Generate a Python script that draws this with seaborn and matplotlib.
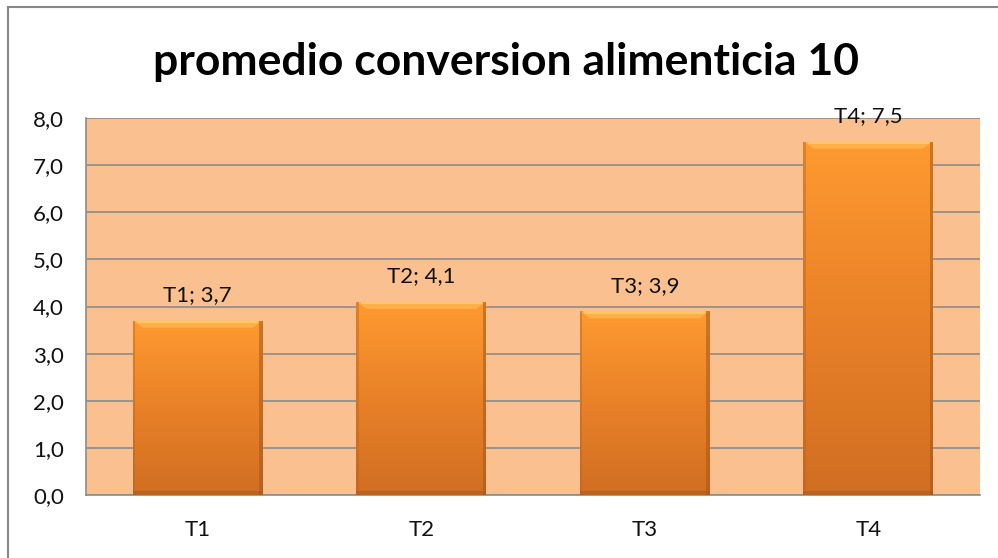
import numpy as np
import pandas as pd
import matplotlib
matplotlib.use("Agg")
import matplotlib.pyplot as plt
from matplotlib.colors import LinearSegmentedColormap
from matplotlib.patches import Rectangle, Polygon
import seaborn as sns

# Data
categories = ["T1", "T2", "T3", "T4"]
values = [3.7, 4.1, 3.9, 7.5]
y_ticks = [0, 1, 2, 3, 4, 5, 6, 7, 8]
title = "promedio conversion alimenticia 10"

sns.set_theme(style="white")
plt.rcParams["font.family"] = ["Lato", "DejaVu Sans"]

df = pd.DataFrame({"trat": categories, "valor": values})

fig = plt.figure(figsize=(9.98, 5.58), dpi=100)
ax = fig.add_axes([0.0862, 0.1129, 0.8958, 0.6756])

sns.barplot(data=df, x="trat", y="valor", ax=ax, color="#F79646",
            width=0.58, edgecolor="none", saturation=1, zorder=3)

ax.set_facecolor("#FAC090")
ax.set_ylim(0, 8)
ax.set_xlim(-0.5, len(categories) - 0.5)
ax.set_yticks(y_ticks)
ax.set_yticklabels([f"{t:.1f}".replace(".", ",") for t in y_ticks],
                   fontsize=16, color="#111111")
ax.tick_params(axis="x", labelsize=16, colors="#111111", pad=18, length=0)
ax.tick_params(axis="y", pad=16, length=0)
ax.set_xlabel("")
ax.set_ylabel("")
ax.yaxis.grid(True, color="#8C8C8C", linewidth=1.2, zorder=1)
ax.set_axisbelow(True)
for side in ["top", "right"]:
    ax.spines[side].set_visible(False)
for side in ["left", "bottom"]:
    ax.spines[side].set_color("#8C8C8C")
    ax.spines[side].set_linewidth(1.2)

# Orange vertical gradient with bevel on each bar
grad_cmap = LinearSegmentedColormap.from_list(
    "naranja", ["#D06E22", "#E98128", "#FF9A30"])
grad = np.linspace(0, 1, 256).reshape(-1, 1)
for bar in ax.patches:
    x0, w, h = bar.get_x(), bar.get_width(), bar.get_height()
    bar.set_facecolor("none")
    im = ax.imshow(grad, cmap=grad_cmap, aspect="auto", origin="lower",
                   extent=[x0, x0 + w, 0, h], zorder=3)
    im.set_clip_path(bar)
    # top bevel highlight
    dx, dy = 0.045, 0.15
    ax.add_patch(Polygon([(x0, h), (x0 + w, h), (x0 + w - dx, h - dy),
                          (x0 + dx, h - dy)], closed=True,
                         facecolor="#FFC05A", edgecolor="none", alpha=0.6,
                         zorder=4))
    ax.add_patch(Rectangle((x0 + 0.02, h - 0.05), w - 0.04, 0.05,
                           facecolor="#FFD878", edgecolor="none", alpha=0.6,
                           zorder=4))
    # side and bottom shading
    ax.add_patch(Rectangle((x0 + w - 0.014, 0), 0.014, h, facecolor="#A35719",
                           edgecolor="none", alpha=0.55, zorder=4))
    ax.add_patch(Rectangle((x0, 0), 0.01, h, facecolor="#B9641F",
                           edgecolor="none", alpha=0.45, zorder=4))
    ax.add_patch(Rectangle((x0, 0), w, 0.08, facecolor="#A35719",
                           edgecolor="none", alpha=0.45, zorder=4))

for i, (c, v) in enumerate(zip(categories, values)):
    ax.annotate(f"{c}; {v:.1f}".replace(".", ","), xy=(i, v),
                xytext=(0, 11), textcoords="offset points",
                ha="center", va="bottom", fontsize=16, color="#111111",
                zorder=5, annotation_clip=False)

fig.text(0.507, 0.889, title, ha="center", va="center", fontsize=32,
         fontweight="bold", color="black")

# Chart area frame
fig.patches.append(Rectangle((0.0085, -0.05), 1.2, 1.0375, transform=fig.transFigure,
                             facecolor="none", edgecolor="#868686", linewidth=1.5,
                             zorder=0))

fig.savefig("out.png", dpi=100, facecolor="white")
